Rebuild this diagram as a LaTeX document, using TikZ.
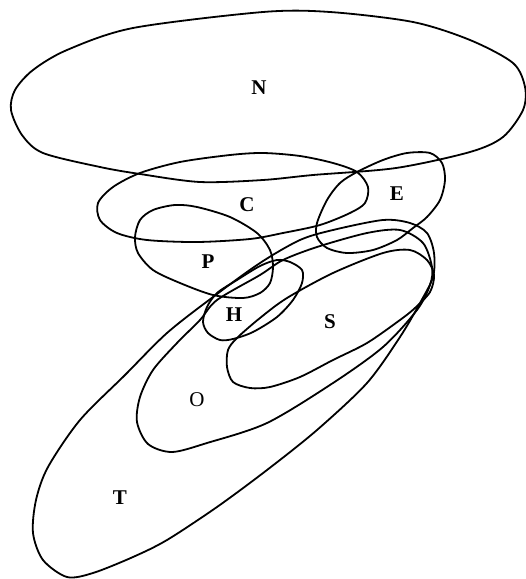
\documentclass[tikz,border=0pt]{standalone}
\usepackage{fontspec}
\setmainfont{Liberation Serif}
\usetikzlibrary{positioning}

\begin{document}
\begin{tikzpicture}[x=1pt,y=-1pt,
  set/.style={line width=1.8pt,line join=round},
  lab/.style={font=\fontsize{21}{21}\selectfont\bfseries},
  labthin/.style={font=\fontsize{21}{21}\selectfont}]
  \useasboundingbox (0,0) rectangle (526,579);

  % N
  \draw[set] plot[smooth cycle] coordinates {(263,12) (330,12) (413,22) (470,40) (513,63)
    (525,87) (523,110) (503,137) (470,152) (396,168) (313,175) (263,180) (200,182)
    (140,174) (100,167) (43,153) (22,135) (11,110) (15,90) (33,70) (67,50) (133,28)};
  % C
  \draw[set] plot[smooth cycle] coordinates {(140,173) (180,162) (230,155) (263,153) (300,156)
    (333,163) (357,172) (368,187) (365,203) (350,213) (320,225) (283,233) (250,239)
    (197,242) (147,240) (117,233) (100,220) (98,203) (113,187)};
  % E
  \draw[set] plot[smooth cycle] coordinates {(357,172) (383,160) (407,153) (430,153) (442,163)
    (445,180) (440,200) (427,217) (413,228) (397,240) (373,250) (347,253) (327,248)
    (317,237) (317,223) (327,200) (340,183)};
  % P
  \draw[set] plot[smooth cycle] coordinates {(140,220) (153,210) (175,205) (197,207) (230,217)
    (257,233) (270,250) (273,267) (270,283) (260,293) (243,298) (213,295) (180,283)
    (153,270) (138,253) (135,237)};
  % H
  \draw[set] plot[smooth cycle] coordinates {(260,266) (277,260) (290,262) (302,270) (302,283)
    (293,300) (277,317) (253,332) (233,339) (220,340) (208,333) (203,322) (207,307)
    (217,293) (237,280)};
  % S
  \draw[set] plot[smooth cycle] coordinates {(237,338) (260,318) (287,298) (333,273) (383,253)
    (410,250) (427,260) (434,275) (430,292) (415,308) (400,320) (367,343) (333,360)
    (300,377) (270,387) (250,388) (233,382) (227,367) (228,350)};
  % O
  \draw[set] plot[smooth cycle] coordinates {(217,300) (260,275) (283,260) (317,247) (367,233)
    (400,230) (423,243) (432,267) (430,285) (417,310) (383,347) (333,383) (267,423)
    (207,443) (172,452) (148,444) (137,422) (140,397) (153,370) (177,343) (200,320)};
  % T
  \draw[set] plot[smooth cycle] coordinates {(213,297) (260,263) (300,240) (333,230) (383,220)
    (410,223) (427,233) (434,253) (433,277) (420,303) (400,337) (367,383) (317,430)
    (267,470) (217,507) (167,540) (133,557) (93,573) (67,577) (43,560) (33,533)
    (36,500) (48,467) (80,420) (125,375) (167,333)};

  % labels
  \node[lab] (n) at (259,88) {N};
  \node[lab] (c) at (247,205) {C};
  \node[lab] (e) at (397,194) {E};
  \node[lab] (p) at (208,262) {P};
  \node[lab] (h) at (234,315) {H};
  \node[lab] (s) at (330,322) {S};
  \node[labthin] (o) at (197,400) {O};
  \node[lab] (t) at (120,498) {T};
\end{tikzpicture}
\end{document}
